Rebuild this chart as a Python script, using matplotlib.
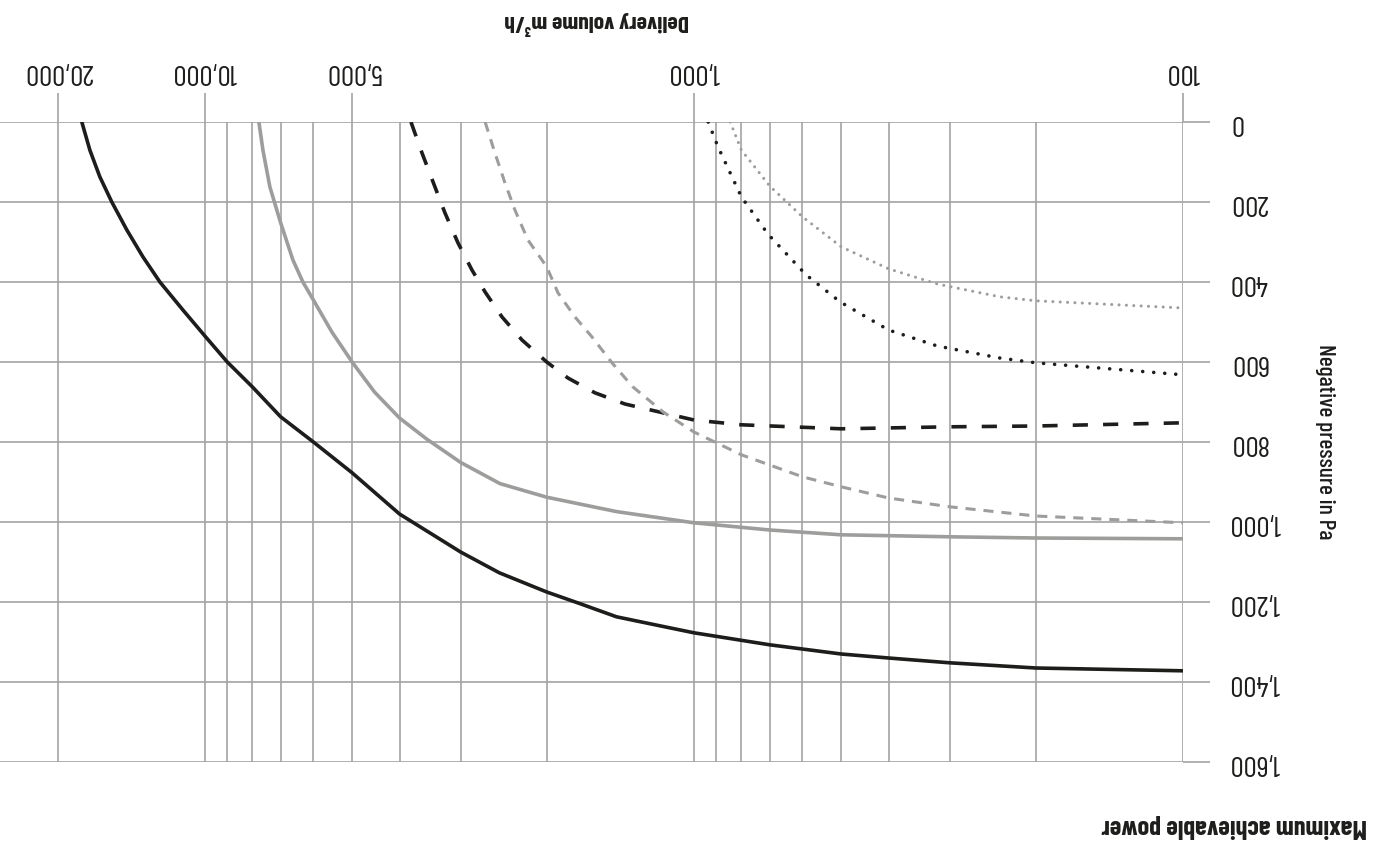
import matplotlib
matplotlib.use('Agg')
import matplotlib.pyplot as plt
from matplotlib.ticker import FixedLocator, NullFormatter

plt.rcParams['font.family'] = ['Barlow Condensed', 'DejaVu Sans']

# ---- data (delivery volume m3/h, negative pressure Pa) ----
black_solid_q = [17850, 17190, 16400, 15500, 14440, 13390, 12360, 11090, 10000, 9000, 8000, 7000, 6000,
                 5000, 4000, 3000, 2500, 2000, 1711, 1440, 1190, 1000, 700, 500, 400, 300, 200, 100]
black_solid_p = [0, 70, 137, 200, 270, 337, 400, 470, 535, 600, 662, 737, 800,
                 877, 980, 1075, 1127, 1175, 1204, 1237, 1258, 1277, 1307, 1330, 1340, 1352, 1365, 1372]

gray_solid_q = [7755, 7610, 7365, 7000, 6607, 6304, 6000, 5500, 5000, 4500, 4000, 3516, 3000, 2493, 2000,
                1440, 1000, 700, 500, 300, 200, 100]
gray_solid_p = [0, 70, 162, 252, 345, 400, 445, 525, 600, 675, 740, 793, 851, 904, 938,
                974, 1002, 1020, 1032, 1037, 1040, 1042]

black_dashed_q = [3790, 3599, 3386, 3230, 3038, 2844, 2673, 2470, 2247, 2000, 1810, 1594, 1384, 1000, 800, 500, 300, 200, 100]
black_dashed_p = [0, 77, 162, 227, 302, 370, 425, 487, 545, 600, 640, 677, 705, 745, 757, 767, 762, 760, 752]

gray_dashed_q = [2673, 2553, 2435, 2323, 2185, 2000, 1897, 1752, 1617, 1471, 1334, 1156, 1000, 800, 600, 500, 400, 300, 200, 100]
gray_dashed_p = [0, 77, 152, 220, 295, 362, 427, 487, 537, 602, 662, 725, 775, 832, 887, 912, 940, 962, 985, 1002]

black_dotted_q = [935, 893, 800, 706, 590, 502, 400, 318, 237, 200, 100]
black_dotted_p = [0, 62, 187, 280, 382, 450, 520, 560, 590, 602, 632]

gray_dotted_q = [843, 800, 700, 600, 500, 400, 318, 237, 200, 100]
gray_dotted_p = [0, 70, 160, 237, 312, 367, 405, 437, 447, 465]

x_major = [100, 1000, 5000, 10000, 20000]
x_labels = ['100', '1,000', '5,000', '10,000', '20,000']
x_minor = [200, 300, 400, 500, 600, 700, 800, 900, 2000, 3000, 4000, 6000, 7000, 8000, 9000]
y_ticks = [0, 200, 400, 600, 800, 1000, 1200, 1400, 1600]
y_labels = ['0', '200', '400', '600', '800', '1,000', '1,200', '1,400', '1,600']

BLACK = '#1d1d1b'
GRAY = '#9d9d9c'
GRID = '#a3a3a3'

fig = plt.figure(figsize=(13.92, 8.41), dpi=100)
ax = fig.add_axes([0, 79 / 841, 1183 / 1392, 640 / 841])
ax.set_xscale('log')
ax.set_xlim(26240, 100)
ax.set_ylim(1600, 0)
for s in ax.spines.values():
    s.set_visible(False)

ax.xaxis.tick_top()
ax.set_xticks(x_major, x_labels)
ax.xaxis.set_minor_locator(FixedLocator(x_minor))
ax.xaxis.set_minor_formatter(NullFormatter())
ax.tick_params(axis='x', which='major', length=21, width=1.2, color=GRID, pad=6,
               labelsize=21, labelrotation=180, labelcolor=BLACK)
ax.tick_params(axis='x', which='minor', length=0)

ax.yaxis.tick_right()
ax.set_yticks(y_ticks, y_labels)
ax.tick_params(axis='y', length=19.5, width=1.2, color=GRID, pad=14,
               labelsize=21, labelrotation=180, labelcolor=BLACK)
for lab in ax.get_yticklabels():
    lab.set_va('center')

ax.grid(True, which='both', color=GRID, lw=1.2)
ax.set_axisbelow(True)

ax.plot(black_solid_q, black_solid_p, color=BLACK, lw=2.6)
ax.plot(gray_solid_q, gray_solid_p, color=GRAY, lw=2.6)
ax.plot(black_dashed_q, black_dashed_p, color=BLACK, lw=2.6, dashes=(4.2, 4.2))
ax.plot(gray_dashed_q, gray_dashed_p, color=GRAY, lw=2.2, dashes=(3.3, 2.6))
ax.plot(black_dotted_q, black_dotted_p, color=BLACK, lw=2.6, dashes=(0.01, 3.05),
        dash_capstyle='round')
ax.plot(gray_dotted_q, gray_dotted_p, color=GRAY, lw=2.2, dashes=(0.01, 2.4),
        dash_capstyle='round')

fig.text(597 / 1392, 1 - 23 / 841, 'Delivery volume m³/h', rotation=180,
         ha='center', va='center', fontsize=17, fontweight='bold', color=BLACK)
fig.text(1325 / 1392, 1 - 442 / 841, 'Negative pressure in Pa', rotation=270,
         ha='center', va='center', fontsize=17, fontweight='medium', color=BLACK)
fig.text(1367 / 1392, 1 - 826 / 841, 'Maximum achievable power', rotation=180,
         ha='right', va='center', fontsize=19, fontweight='bold', color=BLACK)

fig.savefig('out.png', dpi=100)
